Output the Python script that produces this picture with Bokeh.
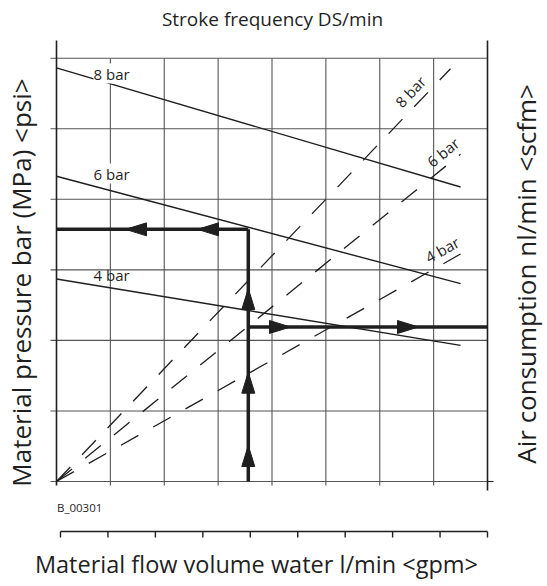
from bokeh.plotting import figure
from bokeh.models import Range1d, Label
from bokeh.embed import file_html
from bokeh.resources import INLINE

# ---------------- data (grid units) ----------------
x_grid = [0, 1, 2, 3, 4, 5, 6, 7, 8]          # stroke frequency divisions
y_grid = [0, 1, 2, 3, 4, 5, 6]                # material pressure divisions
flow_ticks = [0, 1, 2, 3, 4, 5, 6, 7, 8, 9]   # material flow volume ticks

pressure_x = [0.0, 7.5]
pressure_8bar = [5.862, 4.174]
pressure_6bar = [4.326, 2.804]
pressure_4bar = [2.870, 1.929]

air_8bar_x = [0.0, 7.313]
air_8bar_y = [0.0, 5.85]
air_6bar_x = [0.0, 7.5]
air_6bar_y = [0.0, 4.64]
air_4bar_x = [0.0, 7.5]
air_4bar_y = [0.0, 3.224]

op_flow = 3.56
op_pressure = 3.574
op_air = 2.19
arrow_up_tips = [0.510, 1.549, 2.736]
arrow_left_tips = [1.281, 2.617]
arrow_right_tips = [4.343, 6.719]

# ---------------- layout (whole canvas is the frame) ----------------
W, H = 547, 586
ORIGIN_X, ORIGIN_Y = 56, 481      # pixel position of grid origin
PX_X = 431 / 8.0                  # px per stroke-frequency division
PX_Y = 70.55                      # px per pressure division
FLOW_X0 = 60                      # pixel position of flow tick 0
PX_FLOW = 427 / 9.0               # px per flow division

INK = "#1f1f1f"
GRID = "#555555"
FONT = "Open Sans"

x_range = Range1d(-ORIGIN_X / PX_X, (W - ORIGIN_X) / PX_X)
y_range = Range1d(-(H - ORIGIN_Y) / PX_Y, ORIGIN_Y / PX_Y)

p = figure(width=W, height=H, x_range=x_range, y_range=y_range,
           x_axis_location=None, y_axis_location=None,
           toolbar_location=None, output_backend="svg",
           min_border=0, min_border_left=0, min_border_right=0,
           min_border_top=0, min_border_bottom=0)
p.outline_line_color = None
p.grid.visible = False
p.background_fill_color = "white"
p.border_fill_color = "white"
p.extra_x_ranges = {"flow": Range1d(-FLOW_X0 / PX_FLOW, (W - FLOW_X0) / PX_FLOW)}

top_ext = 6 + 17.7 / PX_Y          # frame verticals reach above the top grid line
tick_x = 6 / PX_X
n = len(y_grid)

# horizontal grid lines (with small ticks left of the axis)
p.segment(x0=[-tick_x] * n, y0=y_grid, x1=[8] * n, y1=y_grid,
          line_color=GRID, line_width=1.1)
# bottom line reaches past the right axis
p.segment(x0=[8], y0=[0], x1=[8 + tick_x], y1=[0], line_color=INK, line_width=1.1)
# vertical grid lines
inner_x = x_grid[1:-1]
p.segment(x0=inner_x, y0=[-4 / PX_Y] * len(inner_x), x1=inner_x, y1=[6] * len(inner_x),
          line_color=GRID, line_width=1.1)
# left / right frame lines
p.segment(x0=[x_grid[0], x_grid[-1]], y0=[-4 / PX_Y, -9 / PX_Y],
          x1=[x_grid[0], x_grid[-1]], y1=[top_ext, top_ext],
          line_color=INK, line_width=1.6)

# bottom flow scale (separate axis line with ticks)
fy0 = -(531 - ORIGIN_Y) / PX_Y
fy1 = -(537 - ORIGIN_Y) / PX_Y
p.segment(x0=[flow_ticks[0]], y0=[fy0], x1=[flow_ticks[-1]], y1=[fy0],
          line_color=INK, line_width=1.4, x_range_name="flow")
p.segment(x0=flow_ticks, y0=[fy0] * len(flow_ticks), x1=flow_ticks, y1=[fy1] * len(flow_ticks),
          line_color=INK, line_width=1.4, x_range_name="flow")

# pressure lines
for ys in (pressure_8bar, pressure_6bar, pressure_4bar):
    p.line(pressure_x, ys, line_color=INK, line_width=1.4)

# air consumption lines
for xs, ys in ((air_8bar_x, air_8bar_y), (air_6bar_x, air_6bar_y), (air_4bar_x, air_4bar_y)):
    p.line(xs, ys, line_color=INK, line_width=1.3, line_dash="20 17")

# operating example path
p.line([op_flow, op_flow], [0, op_pressure], line_color=INK, line_width=3.5)
p.line([op_flow, 0], [op_pressure, op_pressure], line_color=INK, line_width=3.5)
p.line([op_flow, 8], [op_air, op_air], line_color=INK, line_width=3.5)

L, HW = 21.0, 6.5
axs, ays = [], []
for t in arrow_up_tips:
    axs.append([op_flow, op_flow - HW / PX_X, op_flow + HW / PX_X])
    ays.append([t, t - L / PX_Y, t - L / PX_Y])
for t in arrow_left_tips:
    axs.append([t, t + L / PX_X, t + L / PX_X])
    ays.append([op_pressure, op_pressure + HW / PX_Y, op_pressure - HW / PX_Y])
for t in arrow_right_tips:
    axs.append([t, t - L / PX_X, t - L / PX_X])
    ays.append([op_air, op_air + HW / PX_Y, op_air - HW / PX_Y])
p.patches(axs, ays, fill_color=INK, line_color=INK)


def px(xp):
    return (xp - ORIGIN_X) / PX_X


def py(yp):
    return (ORIGIN_Y - yp) / PX_Y


def lab(x, y, text, size, angle=0, align="left", baseline="alphabetic", bg=None):
    p.add_layout(Label(x=x, y=y, text=text, text_font=FONT, text_font_size=size,
                       text_color=INK, angle=angle, angle_units="deg",
                       text_align=align, text_baseline=baseline,
                       background_fill_color=bg))


# in-chart labels
lab(px(93), py(73), "8 bar", "15px", bg="white")
lab(px(93), py(173), "6 bar", "15px", bg="white")
lab(px(93), py(274), "4 bar", "15px")
lab(px(410), py(91), "8 bar", "15px", angle=46, align="center", baseline="middle")
lab(px(442.5), py(151.7), "6 bar", "15px", angle=39, align="center", baseline="middle")
lab(px(441.7), py(249), "4 bar", "15px", angle=29, align="center", baseline="middle")

# titles
lab(px(272), py(18), "Stroke frequency DS/min", "19px", align="center", baseline="middle")
lab(px(20), py(282), "Material pressure bar (MPa) <psi>", "26px", angle=90, align="center", baseline="middle")
lab(px(525), py(270), "Air consumption  nl/min <scfm>", "26px", angle=90, align="center", baseline="middle")
lab(px(259), py(563), "Material flow volume water  l/min <gpm>", "23.5px", align="center", baseline="middle")
lab(px(56.5), py(506.5), "B_00301", "11.5px")

open("out.html", "w").write(file_html(p, INLINE))
